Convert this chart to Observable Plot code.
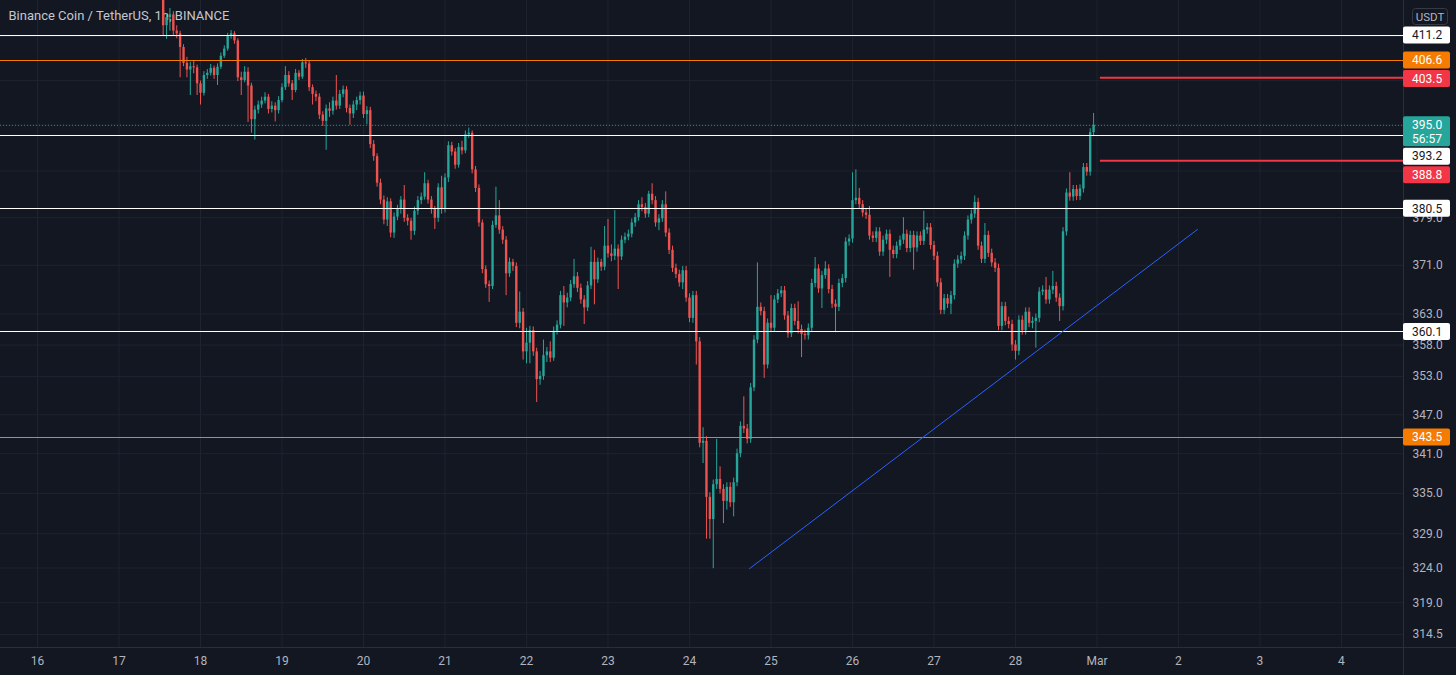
<!DOCTYPE html>
<html><head><meta charset="utf-8">
<script src="https://cdn.jsdelivr.net/npm/d3@7"></script>
<script src="https://cdn.jsdelivr.net/npm/@observablehq/plot@0.6"></script>
<style>
html,body{margin:0;padding:0;background:#131722;overflow:hidden;}
#chart{width:1456px;height:675px;}
</style></head><body><div id="chart"></div>
<script>
const title = "Binance Coin / TetherUS, 1h, BINANCE";
const firstCandleTime = Date.UTC(2021, 1, 17, 12); // hourly candles from Feb 17 12:00 UTC
const firstOpen = 424.0;
const closes = [
420.0,413.0,414.5,415.0,412.0,411.5,409.0,406.1,404.9,405.5,405.3,402.4,
400.7,403.9,404.3,405.2,403.9,405.4,407.4,408.7,411.0,411.5,410.2,403.5,403.0,404.5,402.0,396.0,397.7,398.6,399.3,400.0,397.8,398.4,397.6,399.4,
401.7,403.9,402.4,401.2,404.3,403.6,406.2,406.0,401.7,400.5,400.0,396.8,395.7,397.9,397.5,399.3,398.4,400.5,401.3,398.0,397.0,398.6,399.4,400.2,
396.9,397.6,391.6,389.5,384.9,382.0,378.6,381.7,376.4,379.1,380.4,382.0,378.9,378.4,376.7,380.1,381.9,382.5,384.8,382.0,380.4,378.9,384.1,380.4,
385.8,391.4,390.3,388.0,391.1,390.5,393.3,393.6,387.2,384.0,378.1,370.3,367.8,367.5,377.7,379.3,376.9,375.2,369.6,371.5,370.8,361.5,363.3,356.9,
358.3,360.3,356.9,352.5,353.0,356.3,356.9,355.9,360.2,361.2,366.0,364.8,365.6,367.8,369.1,367.2,365.3,364.0,367.6,371.5,368.6,371.5,370.7,374.2,
372.9,372.5,373.7,372.4,375.2,375.7,376.2,378.1,379.0,381.2,380.7,379.6,383.0,381.9,378.1,378.8,381.2,376.4,373.5,370.5,369.5,368.1,370.1,365.6,
362.3,366.0,358.5,342.6,342.9,334.4,331.1,336.3,337.1,335.6,333.8,335.9,333.6,336.6,341.0,345.2,344.8,343.2,351.2,358.8,364.1,363.4,354.8,361.5,
360.7,365.3,366.3,366.8,362.7,359.8,363.9,361.8,360.5,359.7,359.5,360.7,368.0,370.4,367.1,369.3,370.4,367.0,364.6,364.1,368.0,368.8,374.9,375.4,
381.9,382.3,381.2,379.8,379.4,375.9,375.5,376.6,373.2,375.2,376.2,373.5,372.8,374.2,375.2,376.2,373.8,376.0,373.9,375.9,375.0,376.9,377.3,374.3,
372.5,368.1,363.6,365.5,364.6,366.0,371.2,371.9,372.5,375.9,378.6,379.6,381.6,374.2,372.0,376.0,373.0,371.4,370.5,361.0,364.2,361.8,361.3,358.0,
357.0,362.0,360.3,363.3,361.5,361.8,362.3,366.6,366.9,365.3,366.9,367.5,365.6,364.2,376.6,383.2,382.5,383.8,382.6,383.9,387.6,386.8,393.7,395.0];
const highs = [
425.5,420.5,415.2,416.2,415.6,413.0,412.0,409.5,407.2,406.3,406.5,405.8,
402.9,404.6,405.0,405.9,405.6,406.0,408.0,409.3,411.6,412.1,411.9,410.6,404.5,405.5,405.3,402.5,398.4,399.3,400.0,400.8,400.5,399.2,399.0,400.1,
402.4,405.5,404.6,403.0,405.0,404.8,406.8,407.0,406.5,402.2,401.1,400.6,397.4,398.6,399.0,400.0,403.9,401.2,402.0,401.9,398.6,399.3,400.0,400.9,
400.9,398.3,398.2,392.3,390.0,385.6,382.7,382.4,382.2,379.8,381.1,382.6,384.5,379.5,378.9,380.8,382.6,383.2,386.7,385.4,382.6,380.9,384.8,386.1,
386.5,392.1,392.0,390.9,391.8,392.2,394.0,394.5,394.0,387.8,384.6,378.6,370.9,368.4,378.4,384.2,381.9,377.5,375.8,372.2,372.0,371.4,366.6,363.9,
360.7,361.0,360.9,357.5,353.8,358.8,357.6,358.5,360.9,361.9,366.7,367.5,366.4,368.5,372.0,369.8,367.9,366.0,368.3,374.0,373.5,372.2,372.0,377.5,
378.7,374.4,380.2,374.4,375.9,376.4,376.9,378.8,379.7,381.9,382.4,381.4,383.5,384.8,382.6,379.5,381.9,383.4,377.1,374.2,371.2,370.2,370.8,370.8,
366.3,366.7,366.7,359.2,345.0,343.6,335.1,337.0,343.2,339.0,336.3,336.6,336.6,337.3,341.7,345.9,349.8,345.5,351.9,359.5,371.4,364.8,364.1,362.2,
366.0,366.0,367.0,367.5,367.5,363.4,364.6,364.6,365.0,361.2,360.4,361.4,368.7,372.3,371.1,370.0,371.6,371.1,367.7,365.3,368.7,369.5,375.6,376.1,
386.7,387.2,384.0,381.9,380.5,380.9,376.6,377.3,377.3,375.9,376.9,376.9,374.2,374.9,375.9,379.0,376.9,376.7,376.7,376.6,376.6,380.1,378.0,378.0,
375.0,373.2,368.8,366.2,366.2,366.7,371.9,372.6,373.2,376.6,379.3,380.3,382.7,382.3,374.9,378.0,376.7,373.7,372.1,371.2,364.9,364.9,362.5,362.0,
358.7,362.7,362.7,364.0,364.0,362.5,363.0,367.3,367.6,369.0,367.6,370.0,368.2,366.3,377.3,383.9,386.7,384.5,384.5,384.6,388.3,388.3,394.4,397.1];
const lows = [
418.6,411.0,410.5,412.0,411.2,410.6,403.5,405.5,403.5,400.3,404.2,400.3,
398.6,400.2,403.2,403.8,403.2,402.1,405.0,407.0,408.3,410.5,409.6,402.8,400.3,402.6,395.5,393.6,392.4,397.0,398.0,398.8,397.0,397.2,395.6,397.0,
399.0,401.2,401.8,399.4,400.8,403.0,403.2,405.2,401.0,398.6,399.2,396.0,394.8,390.6,396.4,396.8,397.7,397.8,399.9,397.2,395.0,396.2,397.6,398.6,
396.2,395.1,390.9,388.7,384.2,381.2,377.8,377.5,375.6,375.5,378.5,379.6,378.2,377.6,375.2,376.0,379.4,381.2,382.0,381.3,379.6,377.0,378.2,379.6,
379.8,385.0,389.6,387.3,387.5,389.8,390.0,392.7,386.5,383.3,377.4,369.6,367.2,364.9,367.0,377.2,376.2,374.5,366.0,369.0,370.0,360.8,360.6,355.6,
355.0,355.0,356.2,348.9,351.6,352.4,355.2,355.2,355.4,359.6,360.6,361.0,364.0,365.0,367.2,366.5,364.6,361.3,363.4,367.0,364.5,368.0,370.0,370.1,
372.2,371.6,371.8,367.0,371.8,374.6,375.1,375.6,377.4,378.4,380.0,378.9,379.0,381.2,377.4,376.8,378.2,375.7,372.8,369.8,368.8,367.4,367.0,364.9,
361.6,361.5,354.8,341.9,339.5,328.2,328.2,323.9,335.6,334.9,330.5,332.5,332.9,331.5,336.0,340.4,344.1,342.5,342.6,350.6,358.2,362.7,352.7,354.2,
360.0,360.1,364.7,365.7,362.0,359.1,359.2,361.1,359.8,356.0,358.8,358.8,360.0,367.3,366.4,363.9,368.7,366.3,363.9,360.0,363.4,367.3,368.1,374.2,
374.7,381.2,380.5,379.1,378.7,375.2,374.8,374.8,372.5,372.5,374.5,369.0,372.1,372.1,373.5,374.5,373.1,373.1,370.2,373.2,374.3,374.3,376.2,373.6,
371.8,367.4,362.9,362.9,363.9,362.9,365.3,370.5,371.2,371.8,375.2,377.9,378.9,373.5,371.3,371.3,372.3,370.7,369.8,360.3,360.3,361.1,360.6,357.0,
355.6,356.3,359.6,359.6,360.8,360.6,357.5,361.6,366.0,364.6,364.6,366.2,364.9,361.8,363.5,375.9,381.8,381.8,381.9,381.9,383.2,386.1,386.1,393.0];

const dayTickTimes = [
  Date.UTC(2021,1,16), Date.UTC(2021,1,17), Date.UTC(2021,1,18), Date.UTC(2021,1,19),
  Date.UTC(2021,1,20), Date.UTC(2021,1,21), Date.UTC(2021,1,22), Date.UTC(2021,1,23),
  Date.UTC(2021,1,24), Date.UTC(2021,1,25), Date.UTC(2021,1,26), Date.UTC(2021,1,27),
  Date.UTC(2021,1,28), Date.UTC(2021,2,1), Date.UTC(2021,2,2), Date.UTC(2021,2,3), Date.UTC(2021,2,4)];
const dayTickLabels = ["16","17","18","19","20","21","22","23","24","25","26","27","28","Mar","2","3","4"];
// price scale ticks: the upper ones sit behind the price labels, so only their grid lines show
const priceTicks = [314.5, 319.0, 324.0, 329.0, 335.0, 341.0, 347.0, 353.0, 358.0, 363.0, 371.0, 379.0];
const hiddenPriceTicks = [387.0, 395.0, 403.0, 411.0];

const whiteLevels = [411.2, 393.2, 380.5, 360.1];
const orangeLevels = [406.6, 343.5];
const targetLevels = [403.5, 388.8];
const targetStart = Date.UTC(2021, 2, 1, 1);
const lastPrice = 395.0;
const countdown = "56:57";
const trendTimes = [Date.UTC(2021,1,24,17,40), Date.UTC(2021,2,2,5,35)];
const trendPrices = [323.9, 377.0];
const labelPrices = [411.2, 406.6, 403.5, 395.0, 393.2, 388.8, 380.5, 360.1, 343.5];
const labelKinds  = ["level","orange","target","last","level","target","level","level","orange"];
const currency = "USDT";

const xDomain = [new Date(Date.UTC(2021,1,15,13,6)), new Date(Date.UTC(2021,2,4,18,16))];
const yDomain = [312.67, 417.69];

const UP = "#26a69a", DOWN = "#ef5350";
const FONT = "Roboto, 'Liberation Sans', sans-serif";
const candles = closes.map((c, i) => ({
  time: new Date(firstCandleTime + i * 3600e3),
  open: i === 0 ? firstOpen : closes[i - 1],
  high: highs[i], low: lows[i], close: c
}));
const up = candles.filter(d => d.close >= d.open);
const down = candles.filter(d => d.close < d.open);
const dayTicks = dayTickTimes.map(t => new Date(t));
const tickLabelMap = new Map(dayTickTimes.map((t, i) => [t, dayTickLabels[i]]));
const trend = trendTimes.map((t, i) => ({time: new Date(t), price: trendPrices[i]}));

const plot = Plot.plot({
  width: 1456, height: 675,
  marginLeft: 0, marginRight: 53, marginTop: 0, marginBottom: 28,
  style: {background: "#131722", color: "#b2b5be", fontFamily: FONT, fontSize: "12px"},
  x: {type: "utc", domain: xDomain, axis: null},
  y: {type: "log", domain: yDomain, axis: null},
  marks: [
    Plot.gridX(dayTicks, {stroke: "#1f2330", strokeOpacity: 1}),
    Plot.gridY(priceTicks.concat(hiddenPriceTicks), {stroke: "#1f2330", strokeOpacity: 1}),
    Plot.axisX(dayTicks, {anchor: "bottom", tickSize: 0, tickPadding: 9, tickFormat: d => tickLabelMap.get(+d), fontSize: 12}),
    Plot.axisY(priceTicks, {anchor: "right", tickSize: 0, tickPadding: 9, tickFormat: d => d.toFixed(1), fontSize: 12}),
    Plot.text([title], {text: d => d, frameAnchor: "top-left", dx: 8, dy: 10, textAnchor: "start", lineAnchor: "top", fontSize: 13, fill: "#c4c7cf"}),
    Plot.ruleX(up, {x: "time", y1: "low", y2: "high", stroke: UP, strokeWidth: 1, clip: true}),
    Plot.ruleX(down, {x: "time", y1: "low", y2: "high", stroke: DOWN, strokeWidth: 1, clip: true}),
    Plot.ruleX(up, {x: "time", y1: "open", y2: "close", stroke: UP, strokeWidth: 2.4, clip: true}),
    Plot.ruleX(down, {x: "time", y1: "open", y2: "close", stroke: DOWN, strokeWidth: 2.4, clip: true}),
    Plot.ruleY([lastPrice], {y: d => d, stroke: "#26a69a", strokeOpacity: 0.8, strokeDasharray: "1,2"}),
    Plot.ruleY(whiteLevels, {y: d => d, stroke: "#ffffff", strokeWidth: 1, shapeRendering: "crispEdges"}),
    Plot.ruleY(orangeLevels, {y: d => d, stroke: "#f57c00", strokeWidth: 1, shapeRendering: "crispEdges"}),
    Plot.ruleY(targetLevels, {y: d => d, x1: () => new Date(targetStart), x2: () => xDomain[1], stroke: "#f23645", strokeWidth: 2}),
    Plot.line(trend, {x: "time", y: "price", stroke: "#2962ff", strokeWidth: 1})
  ]
});
document.getElementById("chart").appendChild(plot);

// axis borders and price labels on the right scale
const svg = d3.select(plot);
const ys = plot.scale("y");
svg.append("line").attr("x1", 1403.5).attr("x2", 1403.5).attr("y1", 0).attr("y2", 675).attr("stroke", "#2a2e39");
svg.append("line").attr("x1", 0).attr("x2", 1456).attr("y1", 647.5).attr("y2", 647.5).attr("stroke", "#2a2e39");

const styleOf = {
  level: {bg: "#ffffff", fg: "#131722"},
  orange: {bg: "#f57c00", fg: "#ffffff"},
  target: {bg: "#f23645", fg: "#ffffff"},
  last: {bg: "#26a69a", fg: "#ffffff"}
};
const items = labelPrices.map((p, i) => ({price: p, kind: labelKinds[i], cy: ys.apply(p), h: labelKinds[i] === "last" ? 30 : 17}))
  .sort((a, b) => a.cy - b.cy);
let prevBottom = -Infinity;
for (const it of items) {
  it.top = Math.max(it.cy - 8.5, prevBottom + 1.5);
  prevBottom = it.top + it.h;
}
const g = svg.append("g").attr("font-family", FONT).attr("font-size", 12).attr("text-anchor", "start");
for (const it of items) {
  const s = styleOf[it.kind];
  g.append("rect").attr("x", 1403).attr("y", it.top).attr("width", 47).attr("height", it.h).attr("rx", 2).attr("fill", s.bg);
  g.append("text").attr("x", 1412).attr("y", it.top + 8.5).attr("dy", "0.35em").attr("text-anchor", "start").attr("fill", s.fg).text(it.price.toFixed(1));
  if (it.kind === "last") {
    g.append("text").attr("x", 1412).attr("y", it.top + 23).attr("dy", "0.35em").attr("text-anchor", "start").attr("fill", s.fg).text(countdown);
  }
}
g.append("rect").attr("x", 1412.5).attr("y", 8.5).attr("width", 35).attr("height", 16).attr("rx", 3)
  .attr("fill", "none").attr("stroke", "#363a45");
g.append("text").attr("x", 1430).attr("y", 16.5).attr("dy", "0.35em").attr("text-anchor", "middle").attr("fill", "#b2b5be").attr("font-size", 11.5).text(currency);
</script>
</body></html>
